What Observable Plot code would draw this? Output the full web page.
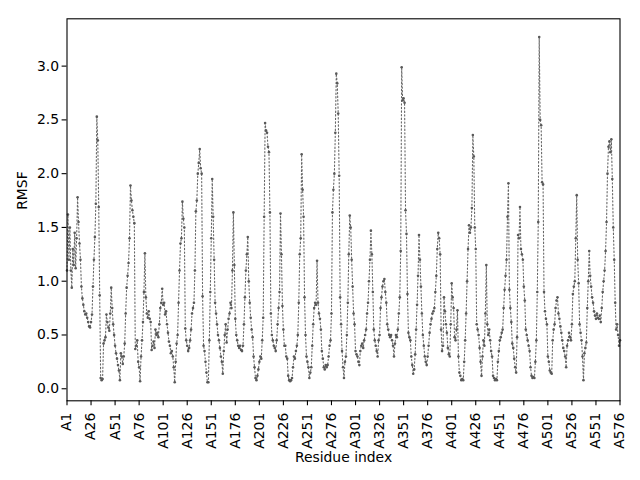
<!DOCTYPE html>
<html>
<head>
<meta charset="utf-8">
<script src="https://cdn.jsdelivr.net/npm/d3@7"></script>
<script src="https://cdn.jsdelivr.net/npm/@observablehq/plot@0.6"></script>
<style>
  html, body { margin: 0; padding: 0; background: #fff; }
</style>
</head>
<body>
<div id="chart"></div>
<script>
// RMSF per residue (A1 .. A576)
const rmsf = [
  // A1-A25
  1.10, 1.62, 1.20, 1.50, 1.10, 0.94, 1.30, 1.15, 1.45, 1.12, 1.40, 1.78, 1.55, 1.35, 1.20, 0.95, 0.84, 0.78, 0.72, 0.69, 0.70, 0.66, 0.62, 0.58, 0.57,
  // A26-A50
  0.62, 0.69, 0.95, 1.20, 1.41, 1.72, 2.53, 2.31, 1.69, 0.87, 0.10, 0.08, 0.09, 0.42, 0.45, 0.48, 0.69, 0.62, 0.57, 0.54, 0.70, 0.94, 0.75, 0.60, 0.50,
  // A51-A75
  0.40, 0.33, 0.28, 0.22, 0.17, 0.08, 0.33, 0.30, 0.23, 0.30, 0.42, 0.70, 0.94, 1.05, 1.17, 1.40, 1.89, 1.75, 1.66, 1.60, 1.54, 0.37, 0.40, 0.45, 0.25,
  // A76-A100
  0.20, 0.07, 0.30, 0.45, 0.62, 0.90, 1.26, 0.85, 0.70, 0.66, 0.72, 0.65, 0.62, 0.36, 0.40, 0.44, 0.38, 0.55, 0.50, 0.52, 0.48, 0.60, 0.75, 0.80, 0.93,
  // A101-A125
  0.78, 0.80, 0.69, 0.72, 0.60, 0.52, 0.44, 0.40, 0.33, 0.35, 0.30, 0.20, 0.06, 0.25, 0.42, 0.50, 0.80, 1.10, 1.35, 1.40, 1.74, 1.58, 1.50, 0.56, 0.45,
  // A126-A150
  0.40, 0.35, 0.38, 0.45, 0.55, 0.70, 0.75, 0.80, 1.10, 1.65, 1.75, 2.00, 2.10, 2.23, 2.05, 2.00, 0.86, 0.40, 0.35, 0.25, 0.15, 0.06, 0.06, 0.45, 0.90,
  // A151-A175
  1.40, 1.95, 1.60, 1.20, 0.80, 0.70, 0.60, 0.50, 0.45, 0.38, 0.30, 0.25, 0.14, 0.35, 0.50, 0.60, 0.43, 0.55, 0.65, 0.70, 0.80, 0.75, 1.10, 1.64, 1.15,
  // A176-A200
  0.65, 0.50, 0.45, 0.40, 0.38, 0.40, 0.36, 0.35, 0.40, 0.60, 0.85, 1.10, 1.25, 1.41, 1.00, 0.80, 0.66, 0.55, 0.48, 0.30, 0.20, 0.10, 0.08, 0.12, 0.18,
  // A201-A225
  0.25, 0.30, 0.28, 0.45, 0.66, 1.60, 2.47, 2.40, 2.38, 2.25, 2.20, 1.64, 0.70, 0.50, 0.45, 0.40, 0.38, 0.35, 0.45, 0.60, 0.75, 0.90, 1.63, 1.25, 0.77,
  // A226-A250
  0.55, 0.40, 0.40, 0.30, 0.28, 0.12, 0.08, 0.07, 0.08, 0.10, 0.20, 0.30, 0.28, 0.35, 0.40, 0.50, 0.80, 1.25, 1.40, 2.18, 1.85, 1.60, 0.85, 0.50, 0.30,
  // A251-A275
  0.25, 0.20, 0.10, 0.15, 0.20, 0.40, 0.60, 0.75, 0.80, 0.78, 1.19, 0.80, 0.70, 0.65, 0.55, 0.35, 0.28, 0.20, 0.18, 0.22, 0.20, 0.22, 0.30, 0.40, 0.45,
  // A276-A300
  0.70, 1.64, 1.85, 2.00, 2.38, 2.93, 2.84, 2.56, 1.98, 0.85, 0.60, 0.35, 0.20, 0.10, 0.25, 0.30, 0.50, 0.80, 1.25, 1.61, 1.50, 1.20, 0.95, 0.70, 0.60,
  // A301-A325
  0.35, 0.32, 0.30, 0.25, 0.22, 0.35, 0.40, 0.42, 0.38, 0.45, 0.50, 0.55, 0.70, 0.80, 1.00, 1.20, 1.47, 1.25, 0.90, 0.55, 0.45, 0.40, 0.35, 0.30, 0.45,
  // A326-A350
  0.50, 0.75, 0.85, 0.95, 1.00, 1.02, 0.90, 0.80, 0.60, 0.55, 0.50, 0.48, 0.50, 0.45, 0.40, 0.30, 0.42, 0.50, 0.48, 0.55, 0.70, 0.85, 1.28, 2.99, 2.68,
  // A351-A375
  2.70, 2.66, 1.66, 1.44, 0.88, 0.52, 0.48, 0.45, 0.30, 0.22, 0.14, 0.18, 0.32, 0.55, 0.78, 1.05, 1.43, 1.20, 0.95, 0.70, 0.50, 0.40, 0.30, 0.25, 0.22,
  // A376-A400
  0.30, 0.40, 0.52, 0.60, 0.65, 0.70, 0.72, 0.75, 0.90, 1.05, 1.30, 1.45, 1.40, 1.25, 0.55, 0.35, 0.40, 0.85, 0.72, 0.60, 0.52, 0.38, 0.32, 0.30, 0.60,
  // A401-A425
  0.98, 0.85, 0.75, 0.48, 0.45, 0.55, 0.73, 0.30, 0.15, 0.12, 0.08, 0.09, 0.08, 0.25, 0.45, 0.70, 1.00, 1.30, 1.52, 1.45, 1.50, 1.68, 2.36, 2.16, 1.50,
  // A426-A450
  1.30, 0.60, 0.55, 0.50, 0.38, 0.25, 0.12, 0.30, 0.45, 0.40, 0.70, 1.15, 0.60, 0.50, 0.55, 0.45, 0.35, 0.30, 0.12, 0.10, 0.08, 0.09, 0.08, 0.25, 0.35,
  // A451-A475
  0.45, 0.48, 0.52, 0.55, 0.75, 0.92, 1.05, 1.20, 1.60, 1.91, 0.92, 0.75, 0.62, 0.42, 0.38, 0.28, 0.20, 0.15, 0.48, 1.43, 1.40, 1.69, 1.30, 1.25, 1.20,
  // A476-A500
  0.95, 0.82, 0.55, 0.50, 0.45, 0.40, 0.35, 0.20, 0.12, 0.10, 0.11, 0.10, 0.25, 0.45, 0.90, 1.55, 3.27, 2.50, 2.45, 1.92, 1.90, 0.90, 0.72, 0.65, 0.60,
  // A501-A525
  0.30, 0.25, 0.17, 0.15, 0.14, 0.45, 0.55, 0.60, 0.75, 0.82, 0.85, 0.70, 0.65, 0.58, 0.52, 0.45, 0.38, 0.35, 0.30, 0.20, 0.40, 0.45, 0.52, 0.48, 0.45,
  // A526-A550
  0.60, 0.88, 0.95, 1.00, 1.40, 1.80, 1.20, 0.98, 0.60, 0.52, 0.45, 0.30, 0.08, 0.33, 0.38, 0.43, 0.75, 1.00, 1.28, 1.05, 0.95, 0.85, 0.80, 0.72, 0.68,
  // A551-A576
  0.65, 0.70, 0.66, 0.65, 0.68, 0.62, 0.75, 0.90, 1.00, 1.10, 1.28, 1.55, 2.00, 2.25, 2.30, 2.20, 2.32, 1.95, 1.50, 1.20, 0.80, 0.55, 0.60, 0.50, 0.40, 0.45
];

// x tick positions (residue numbers) and their labels
const tickResidues = [1, 26, 51, 76, 101, 126, 151, 176, 201, 226, 251, 276, 301, 326, 351, 376, 401, 426, 451, 476, 501, 526, 551, 576];
const tickLabels = ["A1", "A26", "A51", "A76", "A101", "A126", "A151", "A176", "A201", "A226", "A251", "A276", "A301", "A326", "A351", "A376", "A401", "A426", "A451", "A476", "A501", "A526", "A551", "A576"];
const yTicks = [0, 0.5, 1.0, 1.5, 2.0, 2.5, 3.0];

const xLabel = "Residue index";
const yLabel = "RMSF";

const data = rmsf.map((v, i) => ({residue: i + 1, rmsf: v}));
const labelOf = new Map(tickResidues.map((r, i) => [r, tickLabels[i]]));

const lineColor = "#666666";
const dotColor = "#585858";

const chart = Plot.plot({
  width: 640,
  height: 480,
  marginLeft: 66.5,
  marginRight: 20.5,
  marginTop: 18.3,
  marginBottom: 79.7,
  style: {fontFamily: "'DejaVu Sans', sans-serif", fontSize: "13.9px", color: "black", background: "white", overflow: "visible"},
  x: {domain: [1, 576], label: null},
  y: {domain: [-0.112, 3.44], label: null},
  marks: [
    Plot.axisX({ticks: tickResidues, tickFormat: d => labelOf.get(d), tickRotate: -90, tickSize: 4.9, tickPadding: 7, label: null, stroke: "black", strokeWidth: 1.1, fontSize: 13.9}),
    Plot.axisY({ticks: yTicks, tickFormat: d3.format(".1f"), tickSize: 4.9, tickPadding: 3, label: null, stroke: "black", strokeWidth: 1.1, fontSize: 13.9}),
    Plot.line(data, {x: "residue", y: "rmsf", stroke: lineColor, strokeWidth: 1.1, strokeDasharray: "1.3,2.3"}),
    Plot.dot(data, {x: "residue", y: "rmsf", r: 1.3, fill: dotColor, stroke: null}),
    Plot.frame({stroke: "black", strokeWidth: 1.1}),
    Plot.text([yLabel], {frameAnchor: "left", dx: -44, rotate: -90, fontSize: 13.9, fill: "black", lineAnchor: "middle"}),
    Plot.text([xLabel], {frameAnchor: "bottom", dy: 57, fontSize: 13.9, fill: "black", lineAnchor: "middle"})
  ]
});

document.getElementById("chart").appendChild(chart);
</script>
</body>
</html>
